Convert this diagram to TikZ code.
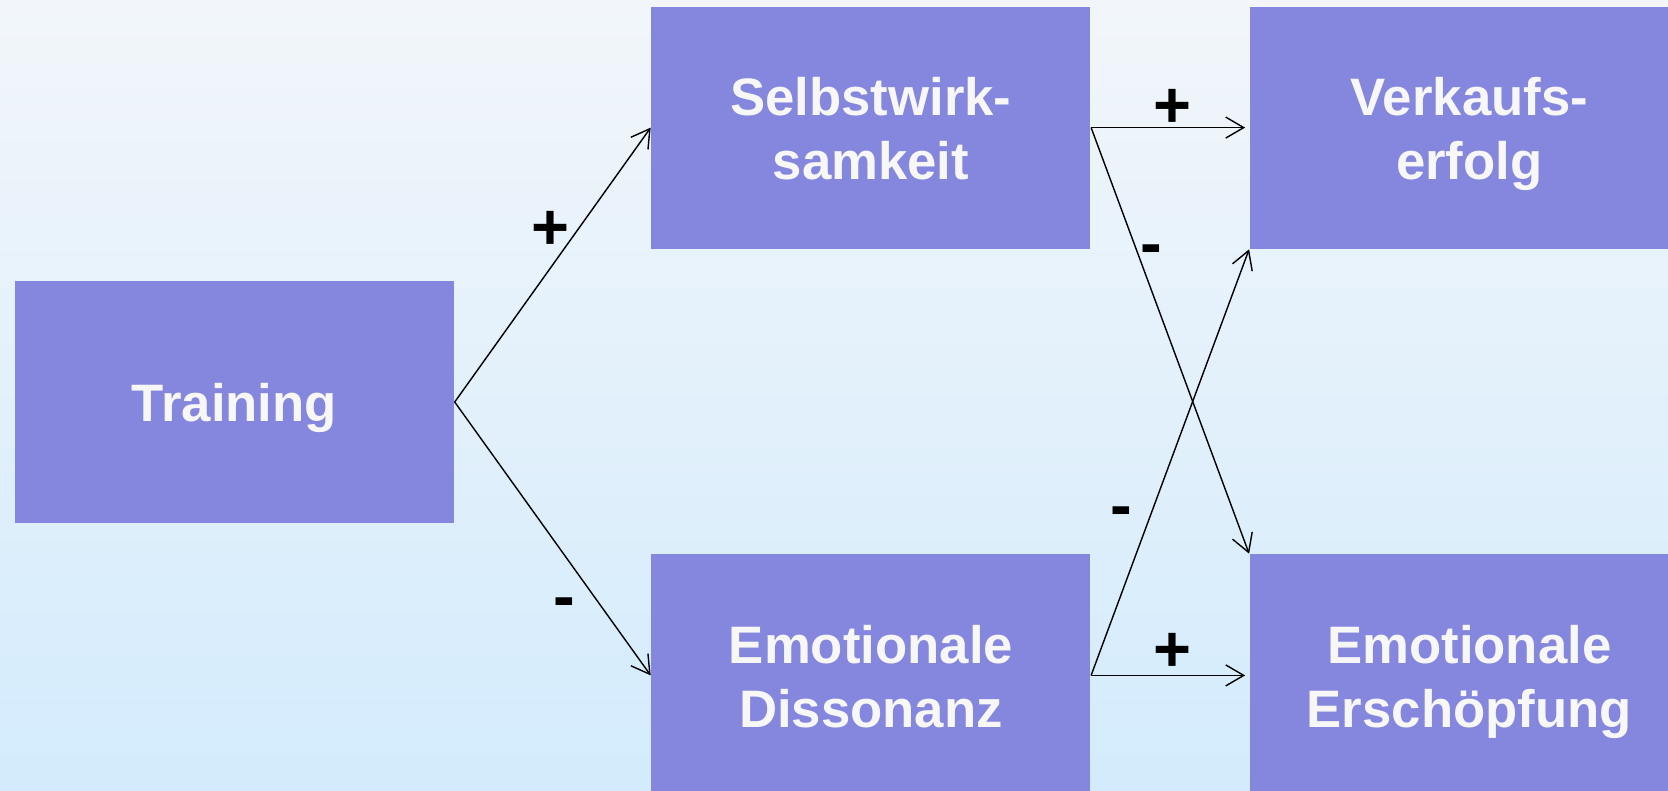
\documentclass[tikz,border=0pt]{standalone}
\usepackage{fontspec}
\setmainfont{Liberation Sans}
\usepackage{xcolor}
\definecolor{boxviolet}{RGB}{133,134,222}
\definecolor{bgtop}{RGB}{242,246,250}
\definecolor{bgbottom}{RGB}{211,235,252}
\usetikzlibrary{arrows.meta,positioning}
\newcommand{\lnstrut}{\rule[-3.35pt]{0pt}{18.05pt}}

\begin{document}
\begin{tikzpicture}[
  font=\fontsize{15}{18.1}\selectfont\bfseries,
  box/.style={fill=boxviolet, text=white!97!black, align=center, inner sep=0pt,
              minimum width=4.39cm, minimum height=2.42cm},
  sign/.style={font=\fontsize{18.5}{20}\selectfont\bfseries, inner sep=0pt},
  arr/.style={-{Straight Barb[length=1.8mm,width=2.1mm]}, line width=0.4pt}
]
\useasboundingbox (0,0) rectangle (16.68,7.90);
\shade[top color=bgtop, bottom color=bgbottom] (0,0) rectangle (16.68,7.90);
\clip (0,0) rectangle (16.68,7.90);
\node[box] (train) at (2.345,3.88) {\lnstrut Training};
\node[box, above right=0.31cm and 1.96cm of train] (selbst) {\lnstrut Selbstwirk-\\\lnstrut samkeit};
\node[box, below right=0.30cm and 1.96cm of train] (disso)  {\lnstrut Emotionale\\\lnstrut Dissonanz};
\node[box, right=1.58cm of selbst] (verkauf) {\lnstrut Verkaufs-\\\lnstrut erfolg};
\node[box, right=1.58cm of disso]  (ersch)   {\lnstrut Emotionale\\\lnstrut Erschöpfung};
\draw[arr] (train.east) -- (selbst.west);
\draw[arr] (train.east) -- (disso.west);
\draw[arr, shorten >=0.4mm] (selbst.east) -- (verkauf.west);
\draw[arr] (selbst.east) -- (ersch.north west);
\draw[arr] (disso.east) -- (verkauf.south west);
\draw[arr, shorten >=0.4mm] (disso.east) -- (ersch.west);
\node[sign] (plusa)  at (5.50,5.60)  {+};
\node[sign] (minusa) at (5.64,1.82)  {-};
\node[sign] (plusb)  at (11.72,6.82) {+};
\node[sign] (minusb) at (11.51,5.35) {-};
\node[sign] (minusc) at (11.21,2.73) {-};
\node[sign] (plusc)  at (11.72,1.38) {+};
\end{tikzpicture}
\end{document}
